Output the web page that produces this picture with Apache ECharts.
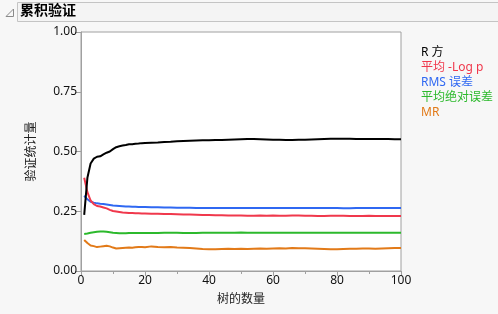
<!DOCTYPE html>
<html>
<head>
<meta charset="utf-8">
<script src="https://cdn.jsdelivr.net/npm/echarts@6/dist/echarts.min.js"></script>
<style>
html,body{margin:0;padding:0;background:#f7f7f7;}
#c{width:498px;height:314px;}
</style>
</head>
<body>
<div id="c"></div>
<script>
const title = '累积验证';
const xName = '树的数量';
const yName = '验证统计量';
const seriesNames = ['R 方', '平均 -Log p', 'RMS 误差', '平均绝对误差', 'MR'];
const colors = ['#000000', '#f0384c', '#2f68f2', '#2cb92c', '#e27a18'];
const yTicks = [0, 0.25, 0.5, 0.75, 1.0];

const xs = [1,2,3,4,5,6,7,8,9,10,11,12,13,14,15,16,17,18,19,20,
  22,24,26,28,30,32,34,36,38,40,42,44,46,48,50,52,54,56,58,60,
  62,64,66,68,70,72,74,76,78,80,82,84,86,88,90,92,94,96,98,100];

const rsq = [0.235,0.39,0.45,0.47,0.478,0.48,0.488,0.495,0.50,0.51,0.518,0.522,0.525,0.527,0.53,0.53,0.532,0.533,0.535,0.536,
  0.537,0.538,0.54,0.541,0.543,0.544,0.545,0.546,0.547,0.547,0.548,0.548,0.549,0.55,0.551,0.552,0.552,0.551,0.55,0.549,
  0.549,0.548,0.548,0.549,0.549,0.55,0.551,0.552,0.553,0.553,0.553,0.553,0.552,0.552,0.552,0.552,0.552,0.552,0.551,0.551];

const logp = [0.39,0.33,0.295,0.28,0.272,0.27,0.266,0.262,0.256,0.251,0.249,0.247,0.245,0.244,0.243,0.243,0.242,0.242,0.241,0.241,
  0.24,0.24,0.239,0.238,0.237,0.236,0.236,0.235,0.234,0.234,0.233,0.233,0.232,0.232,0.232,0.231,0.231,0.232,0.231,0.232,
  0.231,0.231,0.232,0.232,0.231,0.231,0.23,0.23,0.231,0.231,0.231,0.23,0.23,0.23,0.231,0.23,0.23,0.23,0.23,0.23];

const rms = [0.315,0.3,0.29,0.286,0.283,0.281,0.28,0.278,0.276,0.274,0.273,0.272,0.271,0.27,0.27,0.269,0.269,0.268,0.268,0.268,
  0.267,0.267,0.266,0.266,0.265,0.265,0.265,0.264,0.264,0.264,0.264,0.264,0.264,0.264,0.264,0.264,0.264,0.264,0.264,0.264,
  0.264,0.264,0.264,0.264,0.264,0.264,0.264,0.264,0.264,0.264,0.263,0.263,0.264,0.264,0.264,0.264,0.264,0.264,0.264,0.264];

const mae = [0.155,0.157,0.16,0.162,0.164,0.165,0.165,0.164,0.162,0.16,0.159,0.158,0.158,0.158,0.159,0.159,0.159,0.159,0.159,0.159,
  0.159,0.159,0.16,0.16,0.16,0.159,0.159,0.159,0.16,0.16,0.16,0.16,0.16,0.16,0.161,0.16,0.16,0.16,0.16,0.16,
  0.16,0.16,0.16,0.16,0.16,0.16,0.16,0.16,0.16,0.16,0.16,0.16,0.16,0.16,0.16,0.16,0.16,0.16,0.16,0.16];

const mr = [0.13,0.117,0.107,0.104,0.1,0.102,0.104,0.106,0.103,0.098,0.094,0.095,0.096,0.097,0.098,0.097,0.099,0.1,0.1,0.099,
  0.103,0.1,0.099,0.1,0.098,0.097,0.096,0.094,0.092,0.091,0.091,0.092,0.093,0.092,0.093,0.092,0.093,0.094,0.093,0.094,
  0.095,0.094,0.096,0.095,0.095,0.094,0.093,0.092,0.091,0.091,0.092,0.093,0.093,0.094,0.094,0.093,0.094,0.095,0.096,0.096];

const allVals = [rsq, logp, rms, mae, mr];
const FONT = "'Noto Sans','Noto Sans CJK SC',sans-serif";

const chart = echarts.init(document.getElementById('c'), null, {renderer:'canvas'});
chart.setOption({
  backgroundColor: '#f7f7f7',
  animation: false,
  textStyle: {fontFamily: FONT},
  graphic: [
    {type:'rect', shape:{x:17.5, y:2.5, width:490, height:19}, style:{fill:'#f4f4f4', stroke:'#c4c4c4', lineWidth:1}},
    {type:'polygon', shape:{points:[[13.5,9],[13.5,16.5],[6,16.5]]}, style:{fill:'none', stroke:'#8a8a8a', lineWidth:1}},
    {type:'text', left:20, top:3, style:{text:title, font:"bold 14px 'Noto Sans CJK SC'", fill:'#000'}}
  ],
  legend: {
    orient:'vertical', left:416, top:42, itemGap:3, itemWidth:0, itemHeight:0,
    selectedMode:false,
    data: seriesNames.map((n,i)=>({name:n, icon:'none', textStyle:{color:colors[i]}})),
    textStyle:{fontSize:12, fontFamily:FONT, padding:[0,0,0,-5]}
  },
  grid: {left:81, right:97, top:32, bottom:43, show:true, backgroundColor:'#ffffff', borderColor:'#a0a0a0', borderWidth:1},
  xAxis: {
    type:'value', min:0, max:100, interval:20,
    name:xName, nameLocation:'middle', nameGap:23,
    nameTextStyle:{color:'#222', fontSize:12, fontFamily:FONT},
    axisLine:{show:true, lineStyle:{color:'#a0a0a0'}},
    axisTick:{show:true, length:5, lineStyle:{color:'#a0a0a0'}},
    minorTick:{show:true, splitNumber:2, length:3, lineStyle:{color:'#a0a0a0'}},
    axisLabel:{color:'#111', fontSize:12, margin:4, fontFamily:FONT},
    splitLine:{show:false}
  },
  yAxis: {
    type:'value', min:0, max:1, interval:0.25,
    name:yName, nameLocation:'middle', nameGap:43, nameRotate:90,
    nameTextStyle:{color:'#222', fontSize:12, fontFamily:FONT},
    axisLine:{show:true, lineStyle:{color:'#a0a0a0'}},
    axisTick:{show:true, length:6, lineStyle:{color:'#a0a0a0'}},
    axisLabel:{color:'#111', fontSize:12, margin:4, fontFamily:FONT, formatter:v=>{
      const t = yTicks.find(k=>Math.abs(k-v)<1e-9); return (t!==undefined?t:v).toFixed(2);}},
    splitLine:{show:false}
  },
  series: seriesNames.map((n,i)=>({
    name:n, type:'line', showSymbol:false, symbol:'none',
    data: xs.map((x,j)=>[x, allVals[i][j]]),
    lineStyle:{color:colors[i], width:2}, itemStyle:{color:colors[i]},
    z: 10 - i
  }))
});
</script>
</body>
</html>
